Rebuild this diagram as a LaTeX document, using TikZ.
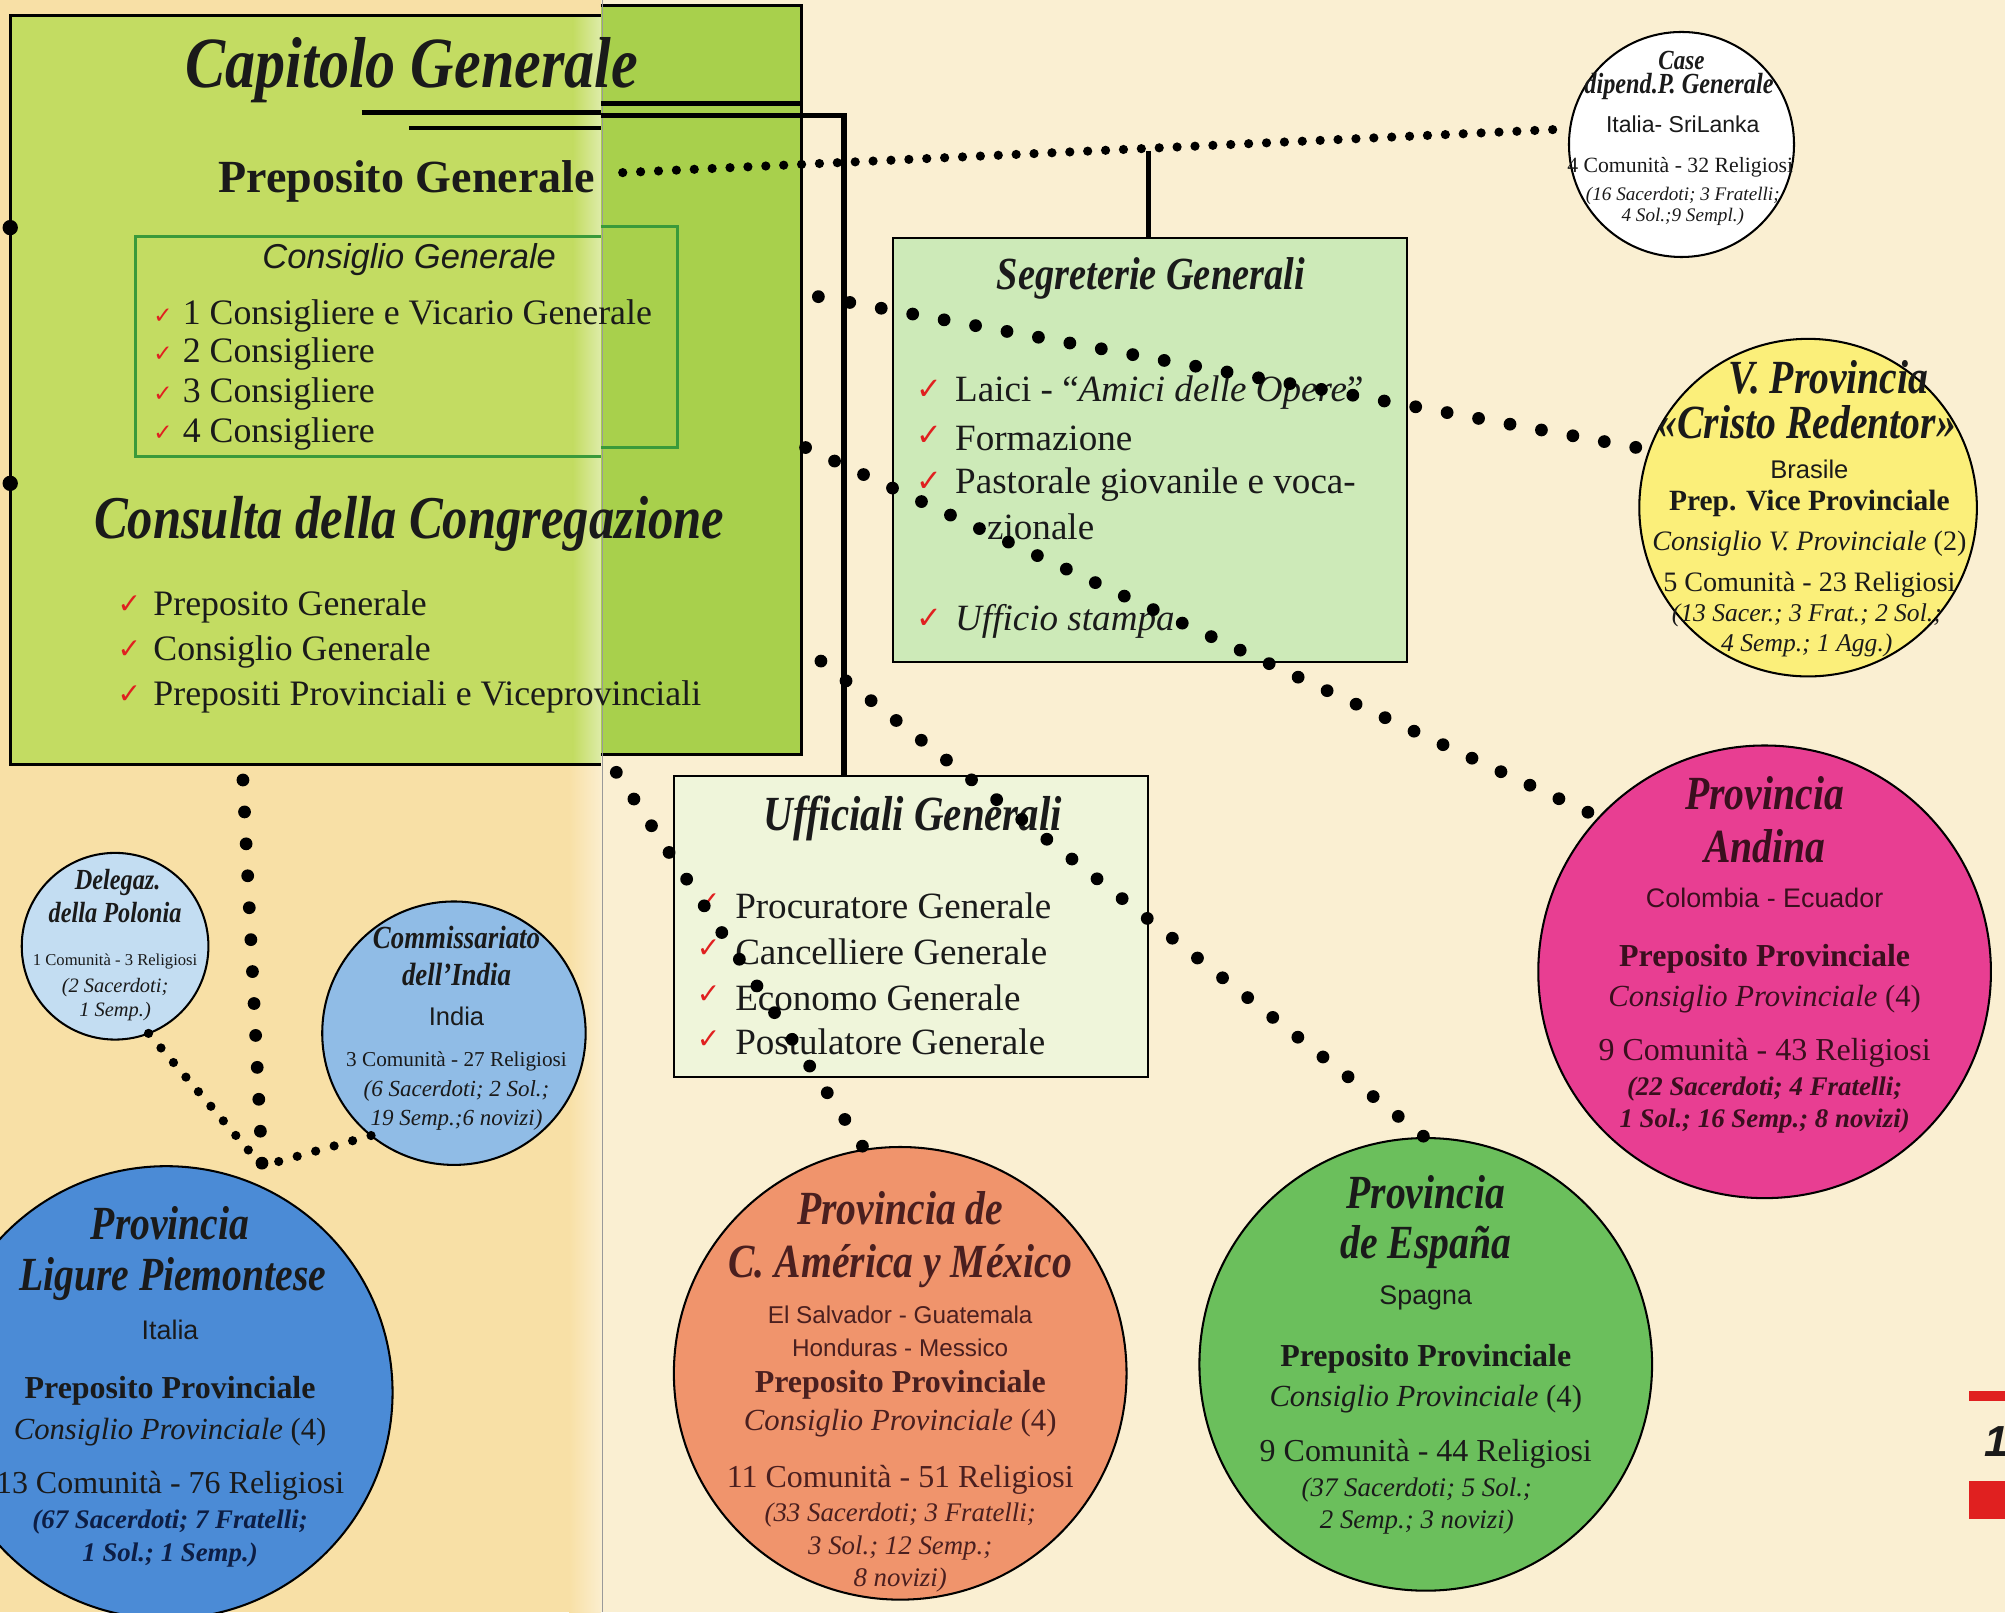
\documentclass[tikz,border=0pt]{standalone}
\usepackage{fontspec}
\usepackage{graphicx}
\setmainfont{Liberation Serif}
\setsansfont{Liberation Sans}
\newfontfamily\symfont{DejaVu Sans}
\definecolor{leftbg}{HTML}{F8E0A6}
\definecolor{rightbg}{HTML}{FAEFD2}
\definecolor{gL}{HTML}{C3DC62}
\definecolor{gR}{HTML}{A8D04C}
\definecolor{consgreen}{HTML}{3A9A3A}
\definecolor{segfill}{HTML}{CDEAB8}
\definecolor{uffill}{HTML}{EFF5DA}
\definecolor{checkred}{HTML}{E02020}
\definecolor{vyellow}{HTML}{FBEF7A}
\definecolor{amagenta}{HTML}{E83E92}
\definecolor{egreen}{HTML}{6BBF5C}
\definecolor{csalmon}{HTML}{F0946C}
\definecolor{lblue}{HTML}{4B8BD6}
\definecolor{pblue}{HTML}{C3DDF2}
\definecolor{iblue}{HTML}{90BCE6}
\definecolor{maroon}{HTML}{3A0F1E}
\definecolor{brownt}{HTML}{4A1F1F}
\definecolor{navyt}{HTML}{0D1E45}
\definecolor{ink}{HTML}{1A1A1A}
\definecolor{pagered}{HTML}{E02020}
\newcommand\fz[1]{\fontsize{#1}{#1}\selectfont}
\newcommand\scrt[2]{{\fz{#1}\bfseries\itshape\scalebox{1}[1.2]{#2}}}
\newcommand\chk[1]{{\symfont\fz{#1}\color{checkred}✓}}
\begin{document}
\begin{tikzpicture}[x=0.5pt,y=-0.5pt,
  every node/.style={inner sep=0pt,outer sep=0pt,text=ink},
  bigdots/.style={line width=5pt,line cap=round,dash pattern=on 0pt off 12.5pt},
  smalldots/.style={line width=3.6pt,line cap=round,dash pattern=on 0pt off 7pt},
  tinydots/.style={line width=3.6pt,line cap=round,dash pattern=on 0pt off 7.5pt},
  orgcircle/.style={circle,draw=black,line width=0.8pt},
  orgbox/.style={draw=black,line width=0.8pt,anchor=north west},
  item/.style={anchor=west},
  thickline/.style={line width=2pt},
  thinline/.style={line width=1.3pt}]
\useasboundingbox (0,0) rectangle (1568,1261);
% pages
\fill[leftbg] (0,0) rectangle (470,1261);
\fill[rightbg] (470,0) rectangle (1568,1261);
\shade[left color=leftbg, right color=leftbg!55!white] (445,598) rectangle (470,1261);
% green panel
\fill[gL] (8,12) rectangle (470,598);
\fill[gR] (470,4) rectangle (627,590);
\shade[left color=gL, right color=gL!55!white] (448,12) rectangle (470,598);
\draw[line width=1.2pt] (470,12) -- (8,12) -- (8,598) -- (470,598);
\draw[line width=1.2pt] (470,4) -- (627,4) -- (627,590) -- (470,590);
\draw[black!40, line width=0.6pt] (471,0) -- (471,1261);
% title lines
\coordinate (ul1a) at (283,88);
\coordinate (ul1b) at (470,88);
\coordinate (ul2a) at (320,100);
\coordinate (ul2b) at (470,100);
\coordinate (ur1a) at (470,81);
\coordinate (ur1b) at (627,81);
\coordinate (ur2a) at (470,90);
\coordinate (ucorner) at (660,90);
\coordinate (ufftop) at (660,607);
\coordinate (sdrop) at (898,118);
\coordinate (segtop) at (898,186);
\draw[thickline] (ul1a) -- (ul1b);
\draw[thinline] (ul2a) -- (ul2b);
\draw[thickline] (ur1a) -- (ur1b);
\draw[thickline] (ur2a) -- (ucorner) -- (ufftop);
\draw[thickline] (sdrop) -- (segtop);
% Capitolo Generale
\node (capt) at (322,55) {\scrt{23.5}{Capitolo Generale}};
\node (pg) at (318,142) {\fz{18}\bfseries Preposito Generale};
% Consiglio box
\draw[consgreen, line width=1pt] (470,185) -- (106,185) -- (106,357) -- (470,357);
\draw[consgreen, line width=1pt] (470,177) -- (530,177) -- (530,350) -- (470,350);
\node (cgt) at (320,203) {\fz{13.5}\sffamily\itshape Consiglio Generale};
\node[item] (cc1) at (120,247) {\chk{9}};
\node[item] (ct1) at (143,247) {\fz{14}1 Consigliere e Vicario Generale};
\node[item] (cc2) at (120,277) {\chk{9}};
\node[item] (ct2) at (143,277) {\fz{14}2 Consigliere};
\node[item] (cc3) at (120,308) {\chk{9}};
\node[item] (ct3) at (143,308) {\fz{14}3 Consigliere};
\node[item] (cc4) at (120,339) {\chk{9}};
\node[item] (ct4) at (143,339) {\fz{14}4 Consigliere};
% Consulta
\node (cons) at (320,410) {\scrt{19.8}{Consulta della Congregazione}};
\node[item] (kc1) at (92,473) {\chk{11}};
\node[item] (kt1) at (120,475) {\fz{14}Preposito Generale};
\node[item] (kc2) at (92,508) {\chk{11}};
\node[item] (kt2) at (120,510) {\fz{14}Consiglio Generale};
\node[item] (kc3) at (92,543) {\chk{11}};
\node[item] (kt3) at (120,545) {\fz{14}Prepositi Provinciali e Viceprovinciali};
% Segreterie
\node[orgbox, fill=segfill, minimum width=201pt, minimum height=166pt] (seg) at (698,186) {};
\node (segt) at (900,218) {\scrt{15}{Segreterie Generali}};
\node[item] (sc1) at (717,305) {\chk{12}};
\node[item] (st1) at (747,307) {\fz{14.5}Laici - “\textit{Amici delle Opere}”};
\node[item] (sc2) at (717,341) {\chk{12}};
\node[item] (st2) at (747,343) {\fz{14.5}Formazione};
\node[item] (sc3) at (717,377) {\chk{12}};
\node[item] (st3) at (747,379) {\fz{14.5}Pastorale giovanile e voca-};
\node[item] (st3b) at (772,412) {\fz{14.5}zionale};
\node[item] (sc4) at (717,484) {\chk{12}};
\node[item] (st4) at (747,486) {\fz{14.5}\itshape Ufficio stampa};
% Ufficiali
\node[orgbox, fill=uffill, minimum width=185.5pt, minimum height=117.5pt] (uff) at (527,607) {};
\node (ufft) at (714,640) {\scrt{16}{Ufficiali Generali}};
\node[item] (uc1) at (545,706) {\chk{11}};
\node[item] (ut1) at (575,708) {\fz{14.5}Procuratore Generale};
\node[item] (uc2) at (545,742) {\chk{11}};
\node[item] (ut2) at (575,744) {\fz{14.5}Cancelliere Generale};
\node[item] (uc3) at (545,778) {\chk{11}};
\node[item] (ut3) at (575,780) {\fz{14.5}Economo Generale};
\node[item] (uc4) at (545,813) {\chk{11}};
\node[item] (ut4) at (575,815) {\fz{14.5}Postulatore Generale};
% circles
\node[orgcircle, fill=white, minimum size=88pt] (case) at (1315,113) {};
\node[orgcircle, fill=vyellow, minimum size=132pt] (vprov) at (1414,397) {};
\node[orgcircle, fill=amagenta, minimum size=177pt] (andina) at (1380,760) {};
\node[orgcircle, fill=egreen, minimum size=177pt] (espana) at (1115,1067) {};
\node[orgcircle, fill=csalmon, minimum size=177pt] (cam) at (704,1074) {};
\node[orgcircle, fill=lblue, minimum size=177pt] (ligure) at (130,1089) {};
\node[orgcircle, fill=pblue, minimum size=73pt] (polonia) at (90,740) {};
\node[orgcircle, fill=iblue, minimum size=103pt] (india) at (355,808) {};
% dotted connectors
\coordinate (pgd) at (487,135);
\coordinate (d1) at (640,232);
\coordinate (d2) at (630,350);
\coordinate (d3) at (642,517);
\coordinate (d4) at (482,604);
\coordinate (d5) at (190,610);
\coordinate (jn) at (205,912);
\draw[smalldots] (pgd) -- (case.172);
\draw[bigdots] (d1) -- (vprov.160);
\draw[bigdots] (d2) -- (andina.137);
\draw[bigdots] (d3) -- (espana.north);
\draw[bigdots] (d4) -- (cam.99);
\draw[bigdots] (d5) -- (jn);
\draw[tinydots] (polonia.-69) -- (jn);
\draw[tinydots] (india.231) -- (jn);
\fill (8,178) circle (3pt);
\fill (8,378) circle (3pt);
% Case texts
\node (ca1) at (1315,47) {\scrt{9}{Case}};
\node (ca2) at (1313,68) {\scrt{9.5}{dipend.P. Generale}};
\node (ca3) at (1316,97) {\fz{9}\sffamily Italia- SriLanka};
\node (ca4) at (1314,131) {\fz{8.5}4 Comunità - 32 Religiosi};
\node (ca5) at (1316,153) {\fz{7.5}\itshape (16 Sacerdoti; 3 Fratelli;};
\node (ca6) at (1316,170) {\fz{7.5}\itshape 4 Sol.;9 Sempl.)};
% V Provincia texts
\node (vp1) at (1430,295) {\scrt{15.5}{V. Provincia}};
\node (vp2) at (1413,330) {\scrt{15.5}{«Cristo Redentor»}};
\node (vp3) at (1415,367) {\fz{10}\sffamily Brasile};
\node (vp4) at (1415,394) {\fz{11.5}\bfseries Prep. Vice Provinciale};
\node (vp5) at (1415,425) {\fz{11}\textit{Consiglio V. Provinciale} (2)};
\node (vp6) at (1415,457) {\fz{11}5 Comunità - 23 Religiosi};
\node (vp7) at (1413,481) {\fz{10}\itshape (13 Sacer.; 3 Frat.; 2 Sol.;};
\node (vp8) at (1413,505) {\fz{10}\itshape 4 Semp.; 1 Agg.)};
% Andina texts
\begin{scope}[every node/.append style={text=maroon}]
\node (an1) at (1380,620) {\scrt{15.5}{Provincia}};
\node (an2) at (1380,662) {\scrt{15.5}{Andina}};
\node (an3) at (1380,702) {\fz{10.5}\sffamily Colombia - Ecuador};
\node (an4) at (1380,750) {\fz{12.5}\bfseries Preposito Provinciale};
\node (an5) at (1380,781) {\fz{12}\textit{Consiglio Provinciale} (4)};
\node (an6) at (1380,823) {\fz{12.5}9 Comunità - 43 Religiosi};
\node (an7) at (1380,852) {\fz{10.5}\bfseries\itshape (22 Sacerdoti; 4 Fratelli;};
\node (an8) at (1380,877) {\fz{10.5}\bfseries\itshape 1 Sol.; 16 Semp.; 8 novizi)};
\end{scope}
% Espana texts
\node (es1) at (1115,932) {\scrt{15.5}{Provincia}};
\node (es2) at (1115,975) {\scrt{15.5}{de España}};
\node (es3) at (1115,1015) {\fz{10.5}\sffamily Spagna};
\node (es4) at (1115,1063) {\fz{12.5}\bfseries Preposito Provinciale};
\node (es5) at (1115,1094) {\fz{12}\textit{Consiglio Provinciale} (4)};
\node (es6) at (1115,1137) {\fz{12.5}9 Comunità - 44 Religiosi};
\node (es7) at (1108,1165) {\fz{10.5}\itshape (37 Sacerdoti; 5 Sol.;};
\node (es8) at (1108,1190) {\fz{10.5}\itshape 2 Semp.; 3 novizi)};
% C. America texts
\begin{scope}[every node/.append style={text=brownt}]
\node (cm1) at (704,945) {\scrt{15.5}{Provincia de}};
\node (cm2) at (704,990) {\scrt{15.5}{C. América y México}};
\node (cm3) at (704,1028) {\fz{9.5}\sffamily El Salvador - Guatemala};
\node (cm4) at (704,1054) {\fz{9.5}\sffamily Honduras - Messico};
\node (cm5) at (704,1083) {\fz{12.5}\bfseries Preposito Provinciale};
\node (cm6) at (704,1113) {\fz{12}\textit{Consiglio Provinciale} (4)};
\node (cm7) at (704,1157) {\fz{12.5}11 Comunità - 51 Religiosi};
\node (cm8) at (704,1185) {\fz{10.5}\itshape (33 Sacerdoti; 3 Fratelli;};
\node (cm9) at (704,1211) {\fz{10.5}\itshape 3 Sol.; 12 Semp.;};
\node (cm10) at (704,1236) {\fz{10.5}\itshape 8 novizi)};
\end{scope}
% Ligure texts
\node (lg1) at (133,957) {\scrt{15.5}{Provincia}};
\node (lg2) at (135,1000) {\scrt{15.5}{Ligure Piemontese}};
\node (lg3) at (133,1040) {\fz{10.5}\sffamily Italia};
\node (lg4) at (133,1088) {\fz{12.5}\bfseries Preposito Provinciale};
\node (lg5) at (133,1120) {\fz{12}\textit{Consiglio Provinciale} (4)};
\node (lg6) at (133,1162) {\fz{12.5}13 Comunità - 76 Religiosi};
\node[text=navyt] (lg7) at (133,1190) {\fz{10.5}\bfseries\itshape (67 Sacerdoti; 7 Fratelli;};
\node[text=navyt] (lg8) at (133,1216) {\fz{10.5}\bfseries\itshape 1 Sol.; 1 Semp.)};
% Polonia texts
\node (po1) at (92,690) {\scrt{9.5}{Delegaz.}};
\node (po2) at (90,714) {\scrt{9.5}{della Polonia}};
\node (po3) at (90,752) {\fz{6.5}1 Comunità - 3 Religiosi};
\node (po4) at (90,772) {\fz{8}\itshape (2 Sacerdoti;};
\node (po5) at (90,791) {\fz{8}\itshape 1 Semp.)};
% India texts
\node (in1) at (357,733) {\scrt{10.5}{Commissariato}};
\node (in2) at (357,762) {\scrt{10.5}{dell'India}};
\node (in3) at (357,795) {\fz{10}\sffamily India};
\node (in4) at (357,830) {\fz{8.3}3 Comunità - 27 Religiosi};
\node (in5) at (357,853) {\fz{9}\itshape (6 Sacerdoti; 2 Sol.;};
\node (in6) at (357,876) {\fz{9}\itshape 19 Semp.;6 novizi)};
% page marks
\fill[pagered] (1540,1088) rectangle (1568,1096);
\fill[pagered] (1540,1158) rectangle (1568,1188);
\node[anchor=west] (pnum) at (1552,1127) {\fz{17}\sffamily\bfseries\itshape 1};
\end{tikzpicture}
\end{document}
